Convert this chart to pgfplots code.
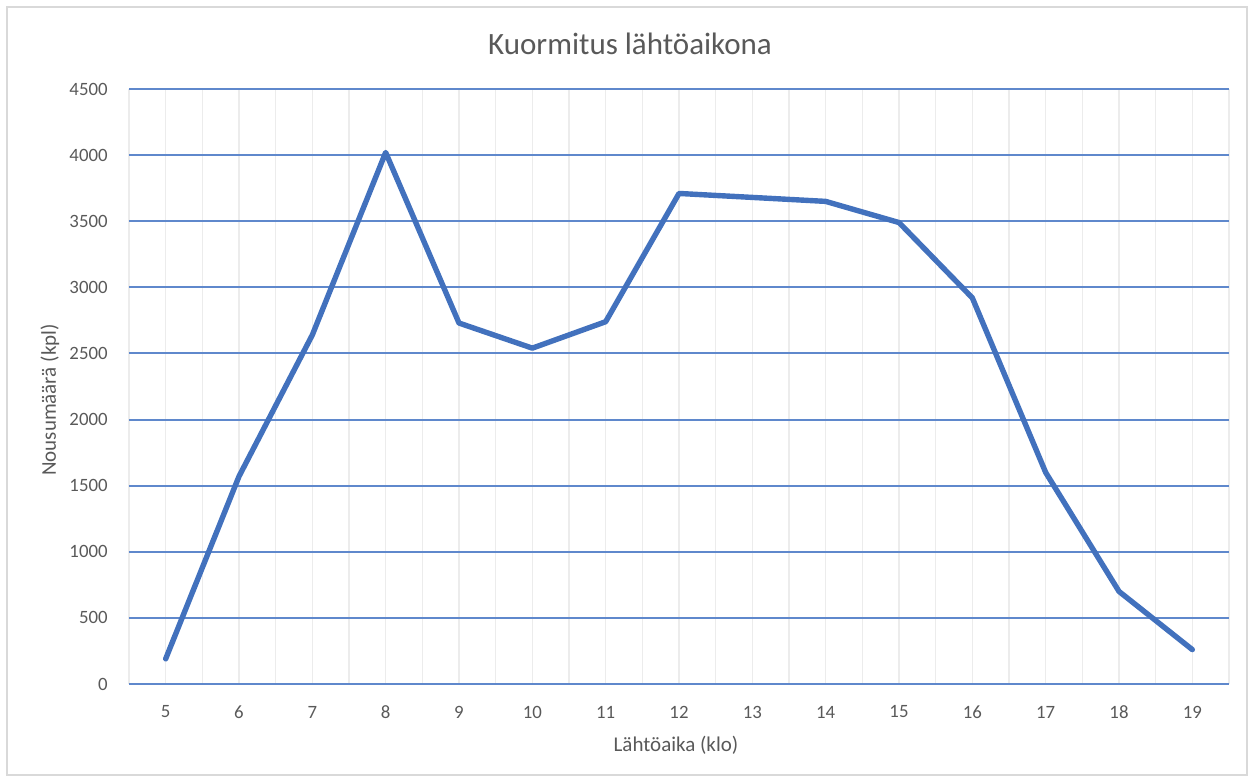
\documentclass[border=0pt]{standalone}
\usepackage{pgfplots}
\pgfplotsset{compat=1.18}
\usepackage{fontspec}
\setmainfont{Carlito}
\definecolor{linec}{HTML}{4271BD}
\definecolor{gridb}{HTML}{5F88CC}
\definecolor{gridv}{HTML}{ECECEC}
\definecolor{frame}{HTML}{D9D9D9}
\definecolor{txt}{HTML}{595959}
\begin{document}
\begin{tikzpicture}[x=1pt,y=1pt]
\path[use as bounding box] (-64.5,-48) rectangle (562.5,342);
\draw[frame, line width=1pt] (-61,-45.5) rectangle (559,338.5);
\begin{axis}[
  at={(0,0)}, anchor=south west,
  scale only axis, width=550pt, height=297.5pt,
  xmin=4.5, xmax=19.5, ymin=0, ymax=4500,
  xtick={5,...,19},
  minor xtick={4.5,5.5,...,19.5},
  ytick={0,500,...,4500},
  xmajorgrids, xminorgrids, ymajorgrids,
  major x grid style={gridv, line width=0.8pt},
  minor x grid style={gridv, line width=0.8pt},
  major y grid style={gridb, line width=1pt},
  axis line style={draw=none},
  major tick length=0pt, minor tick length=0pt,
  /pgf/number format/assume math mode=true,
  /pgf/number format/1000 sep={},
  tick label style={font=\fontsize{9.4}{11}\selectfont, text=txt, inner sep=0pt},
  xticklabel style={anchor=center, yshift=-14pt},
  yticklabel style={anchor=east, xshift=-10.5pt},
  clip=false,
]
\addplot[linec, line width=2.7pt, line join=round, line cap=round] coordinates {
  (5,190) (6,1570) (7,2640) (8,4020) (9,2730) (10,2540) (11,2740)
  (12,3710) (13,3680) (14,3650) (15,3490) (16,2920) (17,1600)
  (18,700) (19,260)
};
\end{axis}
\node[text=txt, font=\fontsize{15.5}{18}\selectfont] at (250.5,320) {Kuormitus lähtöaikona};
\node[text=txt, font=\fontsize{10.5}{12}\selectfont] at (273.5,-30.5) {Lähtöaika (klo)};
\node[text=txt, font=\fontsize{10.5}{12}\selectfont, rotate=90] at (-39.5,142) {Nousumäärä (kpl)};
\end{tikzpicture}
\end{document}
